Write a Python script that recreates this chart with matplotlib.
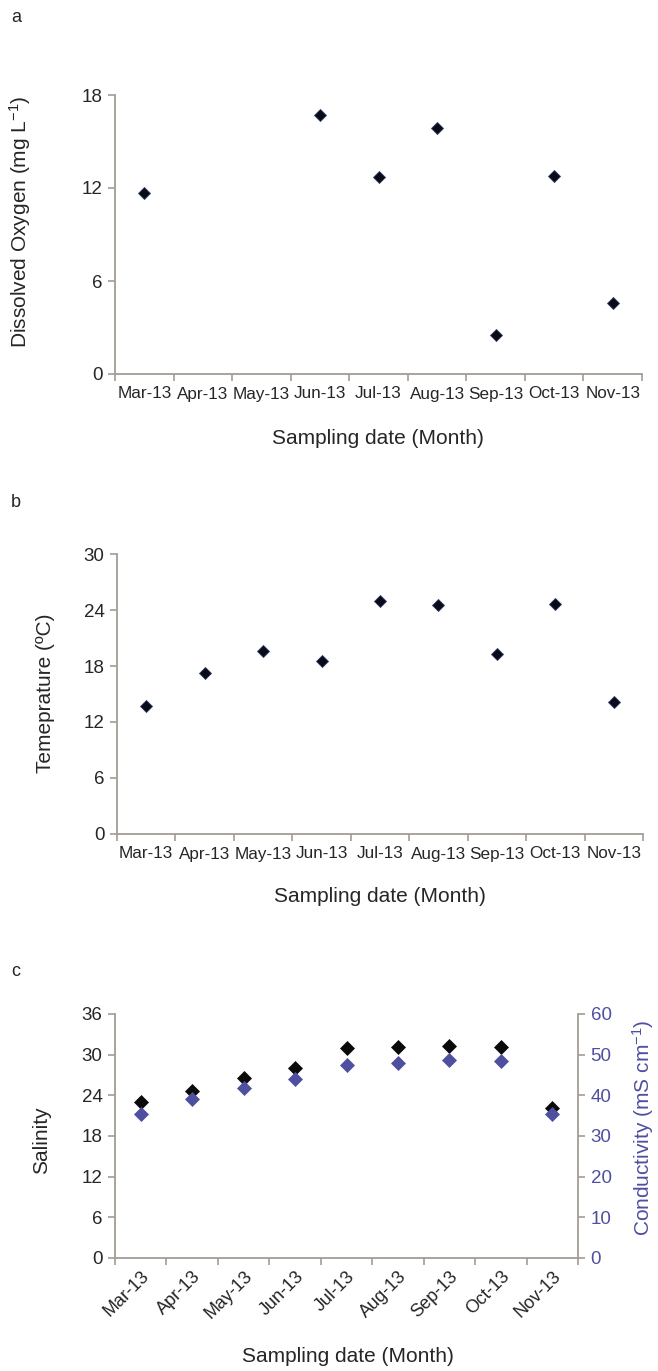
import numpy as np
import matplotlib.pyplot as plt

plt.rcParams['font.family'] = ['Liberation Sans', 'DejaVu Sans']
plt.rcParams['mathtext.fontset'] = 'custom'
plt.rcParams['mathtext.rm'] = 'Liberation Sans'
plt.rcParams['mathtext.it'] = 'Liberation Sans:italic'

# data
months = ['Mar-13', 'Apr-13', 'May-13', 'Jun-13', 'Jul-13', 'Aug-13', 'Sep-13', 'Oct-13', 'Nov-13']
do_vals = [11.7, np.nan, np.nan, 16.7, 12.7, 15.9, 2.5, 12.8, 4.6]
temp_vals = [13.7, 17.3, 19.6, 18.5, 25.0, 24.5, 19.3, 24.6, 14.1]
salinity = [23.0, 24.7, 26.6, 28.1, 31.0, 31.1, 31.3, 31.2, 22.1]
conductivity = [35.3, 39.1, 41.7, 44.0, 47.5, 48.0, 48.6, 48.4, 35.5]

W, H = 658, 1371
axis_col = '#a39c96'
txt_col = '#262626'
cond_col = '#4f4fa0'
FS_TICK = 13.5
FS_XTICK = 12.3
FS_LAB = 15

fig = plt.figure(figsize=(W / 100, H / 100), dpi=100)


def box(l, r, t, b):
    return [l / W, 1 - b / H, (r - l) / W, (b - t) / H]


def ftext(x, y, s, **kw):
    fig.text(x / W, 1 - y / H, s, ha='center', va='center', **kw)


def style(ax, ymax, step, rot=False):
    n = len(months)
    x = np.arange(n) + 0.5
    ax.set_xlim(0, n)
    ax.set_ylim(0, ymax)
    ax.set_yticks(np.arange(0, ymax + 1, step))
    ax.set_xticks(np.arange(n + 1))
    ax.set_xticklabels([])
    ax.set_xticks(x, minor=True)
    if rot:
        ax.set_xticklabels(months, minor=True, rotation=45, ha='right',
                           rotation_mode='anchor')
    else:
        ax.set_xticklabels(months, minor=True)
    ax.tick_params(axis='x', which='minor', length=0, pad=9, labelsize=FS_XTICK, labelcolor=txt_col)
    ax.tick_params(axis='x', which='major', length=5, width=1.2, color=axis_col, direction='out')
    ax.tick_params(axis='y', length=5, width=1.2, color=axis_col, direction='out',
                   labelsize=FS_TICK, labelcolor=txt_col, pad=4)
    for s in ['top', 'right']:
        ax.spines[s].set_visible(False)
    for s in ['left', 'bottom']:
        ax.spines[s].set_color(axis_col)
        ax.spines[s].set_linewidth(1.3)
    return x


# panel a
ax1 = fig.add_axes(box(115, 642, 95, 374))
x = style(ax1, 18, 6)
ax1.plot(x, do_vals, 'D', ms=6, mfc='#0b0b16', mec='#2c3c70', mew=0.6)
ftext(20, 222, 'Dissolved Oxygen (mg L$^{\\mathregular{-1}}$)', fontsize=FS_LAB, color=txt_col, rotation=90)
ftext(378, 438, 'Sampling date (Month)', fontsize=FS_LAB, color=txt_col)
ftext(16, 18, 'a', fontsize=13, color=txt_col)

# panel b
ax2 = fig.add_axes(box(117, 643, 554, 834))
x = style(ax2, 30, 6)
ax2.plot(x, temp_vals, 'D', ms=6, mfc='#0b0b16', mec='#2c3c70', mew=0.6)
ftext(46, 693, 'Temeprature (ºC)', fontsize=FS_LAB, color=txt_col, rotation=90)
ftext(380, 897, 'Sampling date (Month)', fontsize=FS_LAB, color=txt_col)
ftext(16, 503, 'b', fontsize=13, color=txt_col)

# panel c
ax3 = fig.add_axes(box(115, 578, 1014, 1258))
x = style(ax3, 36, 6, rot=True)
ax3.tick_params(axis='x', which='minor', pad=7, labelsize=13)
ax3.plot(x, salinity, 'D', ms=7, mfc='#0a0a0a', mec='#0a0a0a', mew=0.5, zorder=3)
ftext(42, 1140, 'Salinity', fontsize=FS_LAB, color=txt_col, rotation=90)
ftext(348, 1357, 'Sampling date (Month)', fontsize=FS_LAB, color=txt_col)
ftext(16, 971, 'c', fontsize=13, color=txt_col)

ax4 = ax3.twinx()
ax4.set_ylim(0, 60)
ax4.set_yticks(np.arange(0, 61, 10))
ax4.plot(x, conductivity, 'D', ms=7, mfc=cond_col, mec=cond_col, mew=0.5)
ax4.tick_params(axis='y', length=5, width=1.2, color=axis_col, direction='out',
                labelsize=FS_TICK, labelcolor=cond_col, pad=4)
for s in ['top', 'left', 'bottom']:
    ax4.spines[s].set_visible(False)
ax4.spines['right'].set_color(axis_col)
ax4.spines['right'].set_linewidth(1.3)
ftext(643, 1128, 'Conductivity (mS cm$^{\\mathregular{-1}}$)', fontsize=FS_LAB, color=cond_col, rotation=90)

fig.savefig('out.png', dpi=100)
